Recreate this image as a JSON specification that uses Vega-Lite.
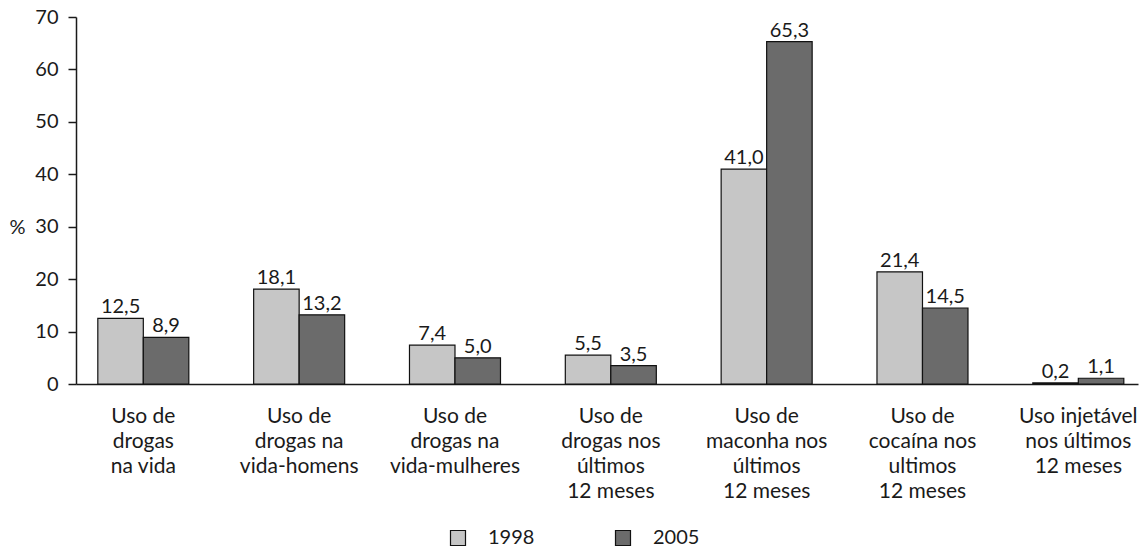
{
  "$schema": "https://vega.github.io/schema/vega-lite/v6.json",
  "width": 1062,
  "height": 367,
  "autosize": {"type": "none"},
  "padding": {"left": 76, "top": 17, "right": 3, "bottom": 167},
  "background": "white",
  "config": {
    "locale": {"number": {"decimal": ",", "thousands": ".", "grouping": [3], "currency": ["R$", ""]}},
    "view": {"stroke": null},
    "font": "Lato",
    "axis": {"domainColor": "#1a1a1a", "domainWidth": 1.5, "tickColor": "#1a1a1a", "tickWidth": 1.5, "labelColor": "#1a1a1a", "labelFontSize": 20, "grid": false},
    "legend": {"labelColor": "#1a1a1a"}
  },
  "data": {
    "values": [
      {"categoria": "Uso de\ndrogas\nna vida", "ano": "1998", "valor": 12.5},
      {"categoria": "Uso de\ndrogas\nna vida", "ano": "2005", "valor": 8.9},
      {"categoria": "Uso de\ndrogas na\nvida-homens", "ano": "1998", "valor": 18.1},
      {"categoria": "Uso de\ndrogas na\nvida-homens", "ano": "2005", "valor": 13.2},
      {"categoria": "Uso de\ndrogas na\nvida-mulheres", "ano": "1998", "valor": 7.4},
      {"categoria": "Uso de\ndrogas na\nvida-mulheres", "ano": "2005", "valor": 5.0},
      {"categoria": "Uso de\ndrogas nos\núltimos\n12 meses", "ano": "1998", "valor": 5.5},
      {"categoria": "Uso de\ndrogas nos\núltimos\n12 meses", "ano": "2005", "valor": 3.5},
      {"categoria": "Uso de\nmaconha nos\núltimos\n12 meses", "ano": "1998", "valor": 41.0},
      {"categoria": "Uso de\nmaconha nos\núltimos\n12 meses", "ano": "2005", "valor": 65.3},
      {"categoria": "Uso de\ncocaína nos\nultimos\n12 meses", "ano": "1998", "valor": 21.4},
      {"categoria": "Uso de\ncocaína nos\nultimos\n12 meses", "ano": "2005", "valor": 14.5},
      {"categoria": "Uso injetável\nnos últimos\n12 meses", "ano": "1998", "valor": 0.2},
      {"categoria": "Uso injetável\nnos últimos\n12 meses", "ano": "2005", "valor": 1.1}
    ]
  },
  "encoding": {
    "x": {
      "field": "categoria", "type": "nominal", "sort": null,
      "scale": {"paddingInner": 0.416, "paddingOuter": 0.1155, "align": 0.606},
      "axis": {"title": null, "labelAngle": 0, "ticks": false, "labelPadding": 21, "labelBaseline": "top", "labelFontSize": 21, "labelLineHeight": 25, "labelLimit": 0, "labelExpr": "split(datum.label, '\\n')"}
    },
    "xOffset": {"field": "ano", "type": "nominal"},
    "y": {
      "field": "valor", "type": "quantitative",
      "scale": {"domain": [0, 70], "nice": false},
      "axis": {"values": [0, 10, 20, 30, 40, 50, 60, 70], "tickSize": 8, "labelPadding": 10, "title": "%", "titleAngle": 0, "titleX": -59, "titleY": 210, "titleAlign": "center", "titleBaseline": "middle", "titleFontWeight": "normal", "titleFontSize": 20, "titleColor": "#1a1a1a"}
    }
  },
  "layer": [
    {
      "mark": {"type": "bar", "stroke": "#111111", "strokeWidth": 1.2},
      "encoding": {
        "color": {
          "field": "ano", "type": "nominal",
          "scale": {"domain": ["1998", "2005"], "range": ["#c6c6c6", "#6b6b6b"]},
          "legend": {"orient": "none", "legendX": 372, "legendY": 511, "direction": "horizontal", "title": null, "symbolType": "square", "symbolSize": 225, "symbolStrokeColor": "#111111", "symbolStrokeWidth": 1.2, "labelFontSize": 20, "labelOffset": 20, "columnPadding": 78}
        }
      }
    },
    {
      "mark": {"type": "text", "baseline": "bottom", "dy": -1, "fontSize": 20, "color": "#1a1a1a"},
      "encoding": {"text": {"field": "valor", "type": "quantitative", "format": ".1f"}}
    }
  ]
}
